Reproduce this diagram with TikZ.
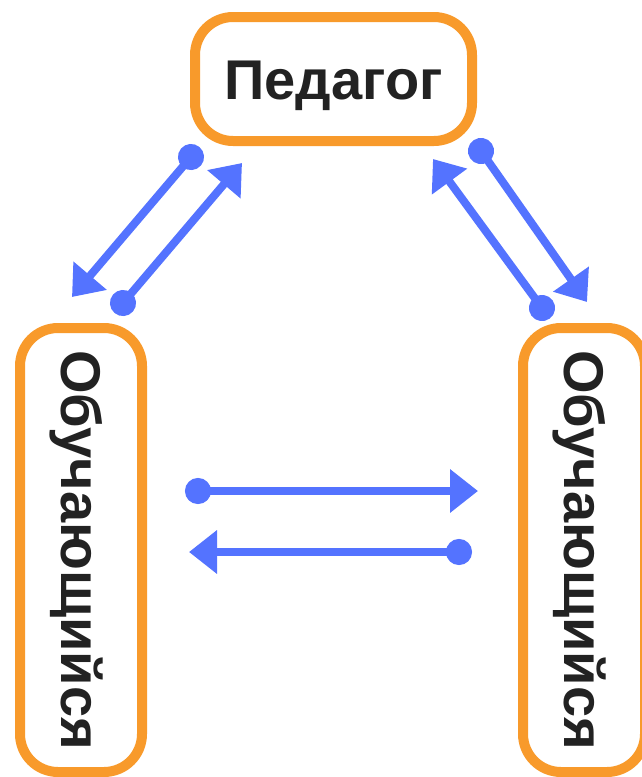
\documentclass[tikz,border=0pt]{standalone}
\usepackage{fontspec}
\setmainfont{Liberation Sans}
\usetikzlibrary{arrows.meta}
\definecolor{orangeb}{HTML}{F89A2B}
\definecolor{bluea}{HTML}{5473FF}
\definecolor{textc}{HTML}{222222}
\begin{document}
\begin{tikzpicture}[x=1pt,y=-1pt,
 box/.style={draw=orangeb,line width=10pt,rounded corners=38pt,fill=white,inner sep=0pt,text=textc,
   font=\fontsize{56}{60}\selectfont\bfseries,text height=40pt,text depth=0pt},
 link/.style={draw=bluea,line width=8pt,shorten <=-13pt,
   {Circle[length=26pt]}-{Triangle[length=28pt,width=42pt]}}]
\useasboundingbox (0,0) rectangle (642,777);
\node[box,minimum width=277pt,minimum height=124pt] (ped) at (333.5,79) {Педагог};
\node[box,rotate=-90,minimum width=444pt,minimum height=122pt] (left) at (81,550) {Обучающийся};
\node[box,rotate=-90,minimum width=444pt,minimum height=122pt] (right) at (584,550) {Обучающийся};
\coordinate (a1) at (191,157); \coordinate (a2) at (72,297);
\coordinate (b1) at (123,303); \coordinate (b2) at (242,163);
\coordinate (c1) at (481,151); \coordinate (c2) at (587,302);
\coordinate (d1) at (542,308); \coordinate (d2) at (433,159);
\coordinate (e1) at (198,491); \coordinate (e2) at (478,491);
\coordinate (f1) at (459,552); \coordinate (f2) at (189,552);
\draw[link] (a1) -- (a2);
\draw[link] (b1) -- (b2);
\draw[link] (c1) -- (c2);
\draw[link] (d1) -- (d2);
\draw[link] (e1) -- (e2);
\draw[link] (f1) -- (f2);
\end{tikzpicture}
\end{document}
